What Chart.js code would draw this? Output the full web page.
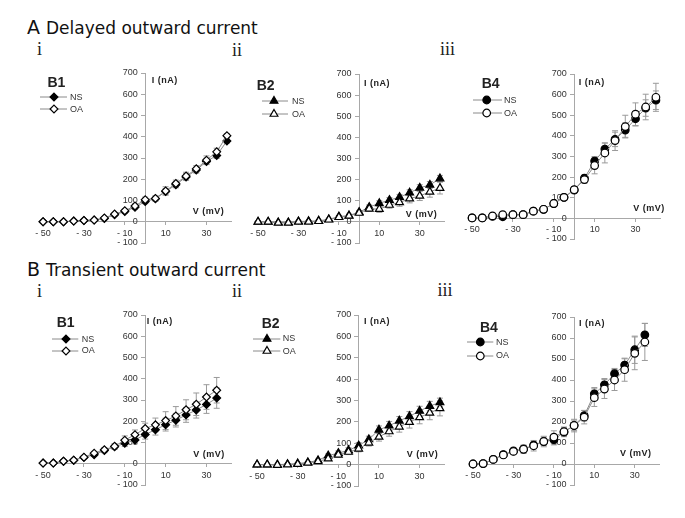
<!DOCTYPE html>
<html>
<head>
<meta charset="utf-8">
<script src="https://cdn.jsdelivr.net/npm/chart.js@4.4.1/dist/chart.umd.min.js"></script>
<style>
  html, body { margin: 0; padding: 0; background: #fff; }
  #fig { position: relative; width: 685px; height: 518px; overflow: hidden;
         font-family: "Liberation Sans", Arial, sans-serif; color: #222; }
  #fig canvas { position: absolute; }
  .t { position: absolute; white-space: nowrap; line-height: 1; }
  .serif { font-family: "Liberation Serif", "Times New Roman", serif; }
  .head { font-family: "DejaVu Sans", sans-serif; color: #111; }
  .ax { font-weight: bold; letter-spacing: 0.5px; color: #222; }
  svg.lg { position: absolute; overflow: visible; }
</style>
</head>
<body>
<div id="fig"></div>
<script>
/* ---------- data (I in nA, V in mV) ---------- */
const V_TO_40 = [-50, -45, -40, -35, -30, -25, -20, -15, -10, -5, 0, 5, 10, 15, 20, 25, 30, 35, 40];
const V_TO_35 = [-50, -45, -40, -35, -30, -25, -20, -15, -10, -5, 0, 5, 10, 15, 20, 25, 30, 35];
const X_TICKS = [-50, -30, -10, 10, 30];
const Y_MIN = -100, Y_MAX = 700, Y_STEP = 100;

// A i — delayed outward, B1
const A1_NS     = [0, 0, 0, 3, 6, 8, 15, 33, 48, 68, 95, 108, 142, 174, 211, 243, 284, 312, 380];
const A1_NS_ERR = [2, 2, 2, 2, 3, 4, 5, 6, 8, 9, 10, 10, 15, 14, 16, 14, 15, 14, 10];
const A1_OA     = [0, 0, 0, 3, 6, 8, 18, 36, 52, 74, 104, 110, 145, 180, 215, 249, 290, 329, 405];
const A1_OA_ERR = [2, 2, 2, 2, 3, 4, 5, 6, 8, 10, 12, 12, 20, 16, 18, 15, 20, 17, 10];

// A ii — delayed outward, B2
const A2_NS     = [0, 0, -3, -3, 2, 3, 5, 12, 25, 30, 46, 70, 88, 103, 117, 138, 161, 175, 205];
const A2_NS_ERR = [3, 3, 3, 3, 3, 3, 4, 5, 6, 7, 8, 10, 12, 12, 13, 14, 15, 16, 15];
const A2_OA     = [0, 0, -5, -5, 0, 0, 3, 10, 22, 28, 42, 62, 60, 80, 92, 110, 123, 142, 160];
const A2_OA_ERR = [3, 3, 3, 3, 3, 3, 4, 5, 6, 8, 10, 12, 15, 15, 18, 20, 22, 25, 28];

// A iii — delayed outward, B4
const A3_NS     = [2, 2, 10, 8, 18, 18, 35, 44, 72, 102, 137, 195, 278, 336, 383, 428, 483, 535, 573];
const A3_NS_ERR = [3, 3, 4, 4, 5, 5, 6, 8, 10, 12, 12, 15, 22, 30, 35, 35, 35, 40, 45];
const A3_OA     = [2, 2, 12, 18, 18, 18, 35, 44, 72, 102, 139, 188, 256, 317, 377, 445, 505, 540, 587];
const A3_OA_ERR = [3, 3, 4, 4, 5, 5, 6, 8, 10, 12, 14, 18, 40, 48, 48, 55, 55, 62, 68];

// B i — transient outward, B1
const B1_NS     = [3, 3, 12, 17, 30, 42, 62, 80, 96, 112, 138, 160, 184, 205, 230, 253, 279, 309];
const B1_NS_ERR = [3, 3, 4, 5, 6, 7, 10, 12, 15, 18, 22, 25, 30, 32, 35, 38, 42, 48];
const B1_OA     = [3, 3, 12, 17, 31, 50, 66, 82, 111, 137, 166, 183, 203, 225, 254, 280, 314, 346];
const B1_OA_ERR = [3, 3, 4, 5, 6, 8, 10, 12, 20, 22, 25, 32, 42, 44, 47, 53, 58, 60];

// B ii — transient outward, B2
const B2_NS     = [0, 0, 0, 2, 5, 10, 20, 42, 54, 67, 89, 118, 163, 182, 205, 226, 251, 274, 291];
const B2_NS_ERR = [3, 3, 3, 3, 4, 5, 6, 8, 10, 12, 14, 15, 18, 20, 20, 22, 22, 22, 20];
const B2_OA     = [0, 0, -2, 0, 2, 8, 15, 28, 46, 59, 74, 102, 130, 155, 177, 199, 221, 242, 263];
const B2_OA_ERR = [3, 3, 3, 3, 4, 5, 6, 8, 10, 12, 14, 15, 20, 22, 25, 28, 30, 32, 35];

// B iii — transient outward, B4
const B3_NS     = [0, 2, 22, 45, 62, 72, 90, 108, 116, 152, 184, 230, 334, 377, 430, 471, 544, 615];
const B3_NS_ERR = [3, 4, 6, 10, 12, 15, 18, 20, 25, 22, 25, 25, 30, 30, 25, 30, 65, 55];
const B3_OA     = [0, 2, 22, 43, 60, 70, 87, 107, 128, 154, 183, 223, 316, 357, 400, 449, 527, 581];
const B3_OA_ERR = [3, 4, 6, 10, 12, 20, 25, 25, 30, 22, 30, 32, 42, 45, 50, 55, 78, 88];

/* ---------- layout of the six panels (page px) ---------- */
const PANELS = [
  { area: [38.6, 72.7, 231.3, 242.7], v: V_TO_40, ns: A1_NS, nsErr: A1_NS_ERR, oa: A1_OA, oaErr: A1_OA_ERR,
    marker: 'rectRot', r: 3.9, name: 'B1', nameAt: [47.5, 87.3],
    legend: { x0: 40, x1: 67, mx: 54, tx: 70, y: [97, 109] }, iAt: [151.7, 80], vAt: [192.7, 211.7] },
  { area: [253.7, 74, 444.4, 242.7], v: V_TO_40, ns: A2_NS, nsErr: A2_NS_ERR, oa: A2_OA, oaErr: A2_OA_ERR,
    marker: 'triangle', r: 4.5, name: 'B2', nameAt: [256.7, 90],
    legend: { x0: 262, x1: 288, mx: 274, tx: 292, y: [101, 114] }, iAt: [364, 83], vAt: [405.7, 214.3] },
  { area: [467.7, 73.7, 659.5, 239], v: V_TO_40, ns: A3_NS, nsErr: A3_NS_ERR, oa: A3_OA, oaErr: A3_OA_ERR,
    marker: 'circle', r: 3.8, name: 'B4', nameAt: [481.7, 87.7],
    legend: { x0: 473, x1: 502, mx: 486.7, tx: 504, y: [100.3, 113] }, iAt: [578.7, 82.7], vAt: [633.3, 208.3] },
  { area: [38.6, 314.7, 231.3, 485.3], v: V_TO_35, ns: B1_NS, nsErr: B1_NS_ERR, oa: B1_OA, oaErr: B1_OA_ERR,
    marker: 'rectRot', r: 3.9, name: 'B1', nameAt: [56.7, 327],
    legend: { x0: 51.7, x1: 78, mx: 65.7, tx: 81.7, y: [339.3, 350.7] }, iAt: [146.7, 321], vAt: [193.3, 454] },
  { area: [253.2, 315, 444.4, 485.7], v: V_TO_40, ns: B2_NS, nsErr: B2_NS_ERR, oa: B2_OA, oaErr: B2_OA_ERR,
    marker: 'triangle', r: 4.5, name: 'B2', nameAt: [261.7, 328],
    legend: { x0: 252.7, x1: 280, mx: 266.7, tx: 282.7, y: [338.7, 351.3] }, iAt: [364, 321.7], vAt: [406.7, 454] },
  { area: [468.9, 316.7, 658.9, 485], v: V_TO_35, ns: B3_NS, nsErr: B3_NS_ERR, oa: B3_OA, oaErr: B3_OA_ERR,
    marker: 'circle', r: 3.8, name: 'B4', nameAt: [480, 331.7],
    legend: { x0: 466.7, x1: 493, mx: 480, tx: 496, y: [342, 355.7] }, iAt: [579, 323.3], vAt: [620, 453.3] }
];

const fig = document.getElementById('fig');

// text placed by baseline
function txt(str, x, base, size, cls, k) {
  const d = document.createElement('div');
  d.className = 't' + (cls ? ' ' + cls : '');
  d.style.fontSize = size + 'px';
  d.style.left = x + 'px';
  d.style.top = (base - (k || 0.8465) * size) + 'px';
  d.textContent = str;
  fig.appendChild(d);
  return d;
}
// text placed by cap-height centre
function txtC(str, x, cy, size, cls) {
  return txt(str, x, cy + 0.358 * size, size, cls);
}

/* ---------- headings ---------- */
const HEAD_K = 0.8235;   // DejaVu Sans baseline offset at line-height 1
const SERIF_K = 0.8375;
txt('A', 27, 34, 19, 'head', HEAD_K);
txt('Delayed outward current', 46, 34, 17, 'head', HEAD_K);
txt('B', 27, 275.7, 19, 'head', HEAD_K);
txt('Transient outward current', 46, 275.7, 17, 'head', HEAD_K);
[[37, 55], [37, 296.7]].forEach(p => txt('i', p[0], p[1], 18, 'serif', SERIF_K));
[[232, 56], [232, 297]].forEach(p => txt('ii', p[0], p[1], 18, 'serif', SERIF_K));
[[440, 55], [437.5, 296]].forEach(p => txt('iii', p[0], p[1], 18, 'serif', SERIF_K));

/* ---------- legend symbols ---------- */
function markerSvg(style, r, filled) {
  const fill = filled ? '#000' : '#fff';
  const a = `fill="${fill}" stroke="#000" stroke-width="1.2"`;
  if (style === 'circle') return `<circle cx="0" cy="0" r="${r}" ${a}/>`;
  if (style === 'triangle') {
    const s = 0.866 * r, h = 0.5 * r;
    return `<polygon points="0,${-r} ${s},${h} ${-s},${h}" ${a}/>`;
  }
  return `<polygon points="0,${-r} ${r},0 0,${r} ${-r},0" ${a}/>`;
}

function legend(p) {
  const L = p.legend;
  ['NS', 'OA'].forEach((name, k) => {
    const y = L.y[k];
    const svg = document.createElementNS('http://www.w3.org/2000/svg', 'svg');
    svg.setAttribute('class', 'lg');
    svg.setAttribute('width', L.x1 - L.x0);
    svg.setAttribute('height', 12);
    svg.style.left = L.x0 + 'px';
    svg.style.top = (y - 6) + 'px';
    svg.innerHTML = `<line x1="0" y1="6" x2="${L.x1 - L.x0}" y2="6" stroke="#8a8a8a" stroke-width="1"/>` +
      `<g transform="translate(${L.mx - L.x0},6)">${markerSvg(p.marker, p.r, k === 0)}</g>`;
    fig.appendChild(svg);
    txtC(name, L.tx, y, 9).style.color = '#333';
  });
}

/* ---------- error bars through the chart scales ---------- */
const errorBars = {
  id: 'errorBars',
  beforeDatasetsDraw(chart) {
    const { ctx, scales: { x, y } } = chart;
    ctx.save();
    ctx.strokeStyle = '#9a9a9a';
    ctx.lineWidth = 1;
    chart.data.datasets.forEach(ds => {
      ds.data.forEach((pt, i) => {
        const e = ds.err[i];
        const px = x.getPixelForValue(pt.x);
        const hi = y.getPixelForValue(pt.y + e);
        const lo = y.getPixelForValue(pt.y - e);
        ctx.beginPath();
        ctx.moveTo(px, hi); ctx.lineTo(px, lo);
        ctx.moveTo(px - 3, hi); ctx.lineTo(px + 3, hi);
        ctx.moveTo(px - 3, lo); ctx.lineTo(px + 3, lo);
        ctx.stroke();
      });
    });
    ctx.restore();
  }
};

const PAD = 14;
const fmt = v => v < 0 ? '- ' + (-v) : String(v);
// y labels sit left of the tick marks (positioned axis draws them on the line otherwise)
const fmtY = v => fmt(v) + '   ';

function panel(p) {
  const [L, T, R, B] = p.area.map(Math.round);
  const cv = document.createElement('canvas');
  cv.width = R - L + 2 * PAD;
  cv.height = B - T + 2 * PAD;
  cv.style.left = (L - PAD) + 'px';
  cv.style.top = (T - PAD) + 'px';
  fig.appendChild(cv);

  const series = (vals, err, filled, order) => ({
    data: p.v.map((x, i) => ({ x, y: vals[i] })),
    err,
    borderColor: '#8a8a8a',
    borderWidth: 1,
    tension: 0,
    pointStyle: p.marker,
    pointRadius: p.r,
    pointBackgroundColor: filled ? '#000' : '#fff',
    pointBorderColor: '#000',
    pointBorderWidth: 1.2,
    clip: false,
    order
  });

  new Chart(cv, {
    type: 'line',
    data: { datasets: [series(p.ns, p.nsErr, true, 1), series(p.oa, p.oaErr, false, 0)] },
    options: {
      responsive: false,
      animation: false,
      layout: { padding: PAD },
      plugins: { legend: { display: false }, tooltip: { enabled: false } },
      scales: {
        x: {
          type: 'linear', min: -52, max: 42, position: { y: 0 },
          afterBuildTicks: s => { s.ticks = X_TICKS.map(value => ({ value })); },
          grid: { display: true, drawOnChartArea: false, drawTicks: true, tickLength: 3, color: '#a8a8a8' },
          border: { color: '#a8a8a8', width: 1 },
          ticks: { font: { size: 9, family: 'Liberation Sans' }, color: '#333', padding: 3, maxRotation: 0, callback: fmt }
        },
        y: {
          type: 'linear', min: Y_MIN, max: Y_MAX, position: { x: 0 },
          grid: { display: true, drawOnChartArea: false, drawTicks: true, tickLength: 4, color: '#a8a8a8' },
          border: { color: '#a8a8a8', width: 1 },
          ticks: { stepSize: Y_STEP, font: { size: 9, family: 'Liberation Sans' }, color: '#333', padding: 3, callback: fmtY }
        }
      }
    },
    plugins: [errorBars]
  });

  txt(p.name, p.nameAt[0], p.nameAt[1], 14).style.fontWeight = 'bold';
  legend(p);
  txtC('I (nA)', p.iAt[0], p.iAt[1], 9, 'ax');
  txtC('V (mV)', p.vAt[0], p.vAt[1], 9, 'ax');
}

PANELS.forEach(panel);
</script>
</body>
</html>
